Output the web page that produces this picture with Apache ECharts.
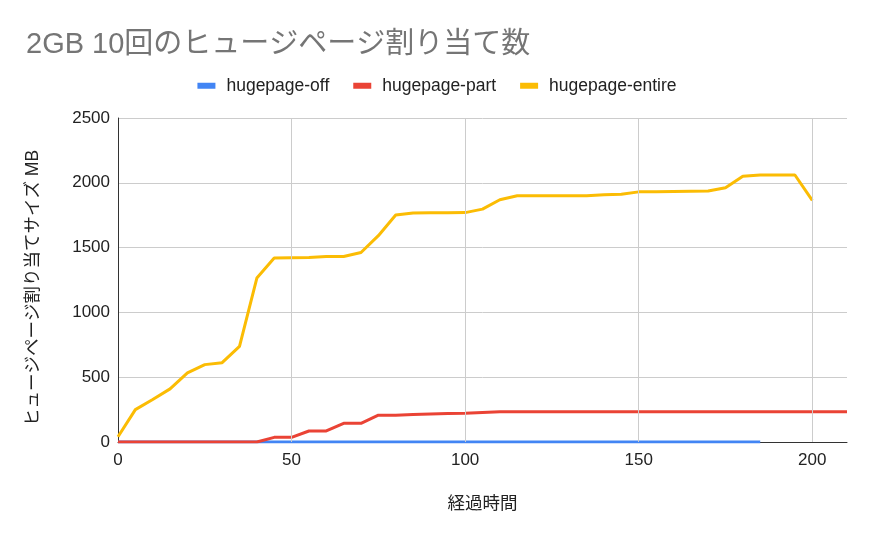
<!DOCTYPE html>
<html><head><meta charset="utf-8">
<script src="https://cdn.jsdelivr.net/npm/echarts@6/dist/echarts.min.js"></script>
<style>html,body{margin:0;padding:0;background:#fff}#c{width:874px;height:540px}</style>
</head><body><div id="c"></div>
<script>
const xOff = [0,5,10,15,20,25,30,35,40,45,50,55,60,65,70,75,80,85,90,95,100,105,110,115,120,125,130,135,140,145,150,155,160,165,170,175,180,185];
const yOff = [0,0,0,0,0,0,0,0,0,0,0,0,0,0,0,0,0,0,0,0,0,0,0,0,0,0,0,0,0,0,0,0,0,0,0,0,0,0];
const xPart = [0,5,10,15,20,25,30,35,40,45,50,55,60,65,70,75,80,85,90,95,100,105,110,115,120,125,130,135,140,145,150,155,160,165,170,175,180,185,190,195,200,205,210];
const yPart = [0,0,0,0,0,0,0,0,0,36,36,85,85,144,144,207,207,213,217,219,221,227,233,233,233,233,233,233,233,233,233,233,233,233,233,233,233,233,233,233,233,233,233];
const xEntire = [0,5,10,15,20,25,30,35,40,45,50,55,60,65,70,75,80,85,90,95,100,105,110,115,120,125,130,135,140,145,150,155,160,165,170,175,180,185,190,195,200];
const yEntire = [40,250,328,410,533,597,612,738,1265,1420,1422,1424,1431,1432,1462,1592,1752,1767,1768,1768,1770,1797,1869,1900,1900,1900,1900,1900,1907,1912,1930,1931,1933,1935,1936,1962,2050,2060,2060,2060,1865];
const xGridLines = [50,100,150,200];
const seriesNames = ['hugepage-off','hugepage-part','hugepage-entire'];
const colors = ['#4285F4','#EA4335','#FBBC04'];

const pair = (xs, ys) => xs.map((x, i) => [x, ys[i]]);
const font = '"Liberation Sans", Arial, "Noto Sans CJK JP", sans-serif';

const chart = echarts.init(document.getElementById('c'));
const mk = (name, data, color) => ({
  name, type: 'line', data, showSymbol: false, symbol: 'none',
  lineStyle: { width: 3, color }, itemStyle: { color }, z: 3
});
chart.setOption({
  animation: false,
  textStyle: { fontFamily: font },
  title: {
    text: '2GB 10回のヒュージページ割り当て数',
    left: 21, top: 25,
    textStyle: { fontSize: 29, fontWeight: 'normal', color: '#757575', fontFamily: font }
  },
  legend: {
    top: 72, left: 'center', icon: 'rect', itemWidth: 18, itemHeight: 6, itemGap: 24,
    textStyle: { fontSize: 17.5, color: '#222', fontFamily: font, padding: [0, 0, 0, 6] },
    data: seriesNames
  },
  grid: { left: 118, right: 27, top: 118, bottom: 98, containLabel: false },
  xAxis: {
    type: 'value', min: 0, max: 210, interval: 50,
    name: '経過時間', nameLocation: 'middle', nameGap: 53,
    nameTextStyle: { fontSize: 17.5, color: '#222', fontFamily: font },
    axisLine: { show: true, lineStyle: { color: '#333', width: 1 } },
    axisTick: { show: false },
    axisLabel: { fontSize: 17, color: '#222', margin: 10, showMaxLabel: false,
      formatter: v => (v % 50 === 0 ? String(v) : '') },
    splitLine: { show: false }
  },
  yAxis: {
    type: 'value', min: 0, max: 2500, interval: 500,
    name: 'ヒュージページ割り当てサイズ MB', nameLocation: 'middle', nameGap: 76, nameRotate: 90,
    nameTextStyle: { fontSize: 17.5, color: '#222', fontFamily: font, padding: [0, 16, 0, 0] },
    axisLine: { show: true, lineStyle: { color: '#333', width: 1 } },
    axisTick: { show: false },
    axisLabel: { fontSize: 17, color: '#222', margin: 8, formatter: v => String(v) },
    splitLine: { show: true, lineStyle: { color: '#cccccc', width: 1 } }
  },
  series: [
    { name: 'grid', type: 'line', data: [], silent: true, z: 1,
      markLine: { silent: true, symbol: ['none','none'], label: { show: false },
        lineStyle: { color: '#cccccc', width: 1, type: 'solid' },
        data: xGridLines.map(v => ({ xAxis: v })) } },
    mk(seriesNames[0], pair(xOff, yOff), colors[0]),
    mk(seriesNames[1], pair(xPart, yPart), colors[1]),
    mk(seriesNames[2], pair(xEntire, yEntire), colors[2])
  ]
});
</script></body></html>
